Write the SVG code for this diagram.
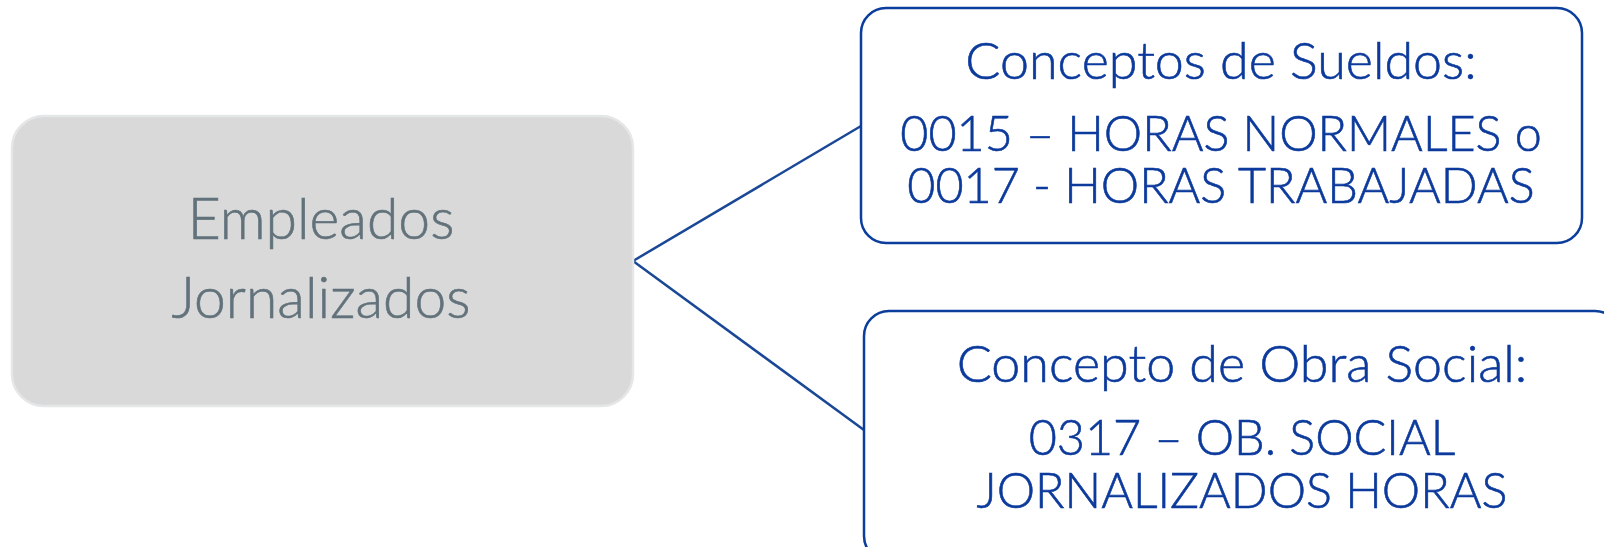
<svg xmlns="http://www.w3.org/2000/svg" width="1604" height="547" viewBox="0 0 1604 547">
<style>
.grey{fill:#d9d9d9;stroke:#e4e6e8;stroke-width:2.5}
.blue{fill:#ffffff;stroke:#0a3d9c;stroke-width:2.5}
.conn{fill:none;stroke:#1a4896;stroke-width:2.5}
.gt{font-family:Lato,"Noto Sans",sans-serif;font-weight:300;font-size:57px;fill:#62727b;stroke:#62727b;stroke-width:0.6;text-anchor:middle}
.bt{font-family:Lato,"Noto Sans",sans-serif;font-weight:300;font-size:48.5px;fill:#0c3a9c;stroke:#0c3a9c;stroke-width:0.6;text-anchor:middle}
.bh{font-size:52px}
</style>
<g id="connectors">
<line class="conn" x1="633" y1="261" x2="861" y2="126"/>
<line class="conn" x1="633" y1="261" x2="864" y2="430"/>
</g>
<g id="node-empleados">
<rect class="grey" x="12" y="116" width="621" height="290" rx="32" ry="32"/>
<text class="gt" x="321" y="239">Empleados</text>
<text class="gt" x="321" y="318">Jornalizados</text>
</g>
<g id="node-sueldos">
<rect class="blue" x="861" y="8" width="721" height="235" rx="25" ry="25"/>
<text class="bt bh" x="1221" y="79">Conceptos de Sueldos:</text>
<text class="bt" x="1221" y="151">0015 – HORAS NORMALES o</text>
<text class="bt" x="1221" y="203">0017 - HORAS TRABAJADAS</text>
</g>
<g id="node-obra-social">
<rect class="blue" x="864" y="311" width="756" height="250" rx="25" ry="25"/>
<text class="bt bh" x="1242" y="382">Concepto de Obra Social:</text>
<text class="bt" x="1242" y="455">0317 – OB. SOCIAL</text>
<text class="bt" x="1242" y="508">JORNALIZADOS HORAS</text>
</g>
</svg>
